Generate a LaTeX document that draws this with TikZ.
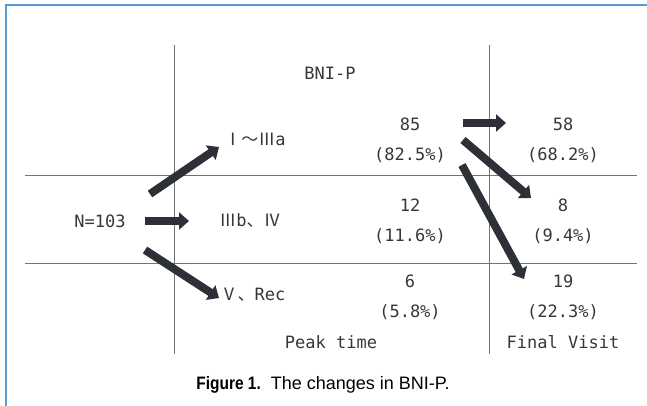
\documentclass[tikz,border=0pt]{standalone}
\usepackage{fontspec}
\setmainfont{DejaVu Sans Mono}
\newfontfamily\cjk{Noto Sans CJK JP}
\newfontfamily\capfont{Liberation Sans}
\newfontfamily\capbold{Liberation Sans Bold}[FakeStretch=0.86]
\usetikzlibrary{calc,arrows.meta}
\definecolor{frameblue}{RGB}{91,155,213}
\definecolor{arrowgray}{RGB}{45,48,54}
\definecolor{textgray}{RGB}{55,55,55}
\def\drawarrow{\draw[color=arrowgray, line width=8pt, -{Triangle[length=10pt,width=17pt]}]}
\def\drawgrid{\draw[color=black!55, line width=0.9pt]}
\def\cellnode{\node[text=textgray, font=\fontsize{17}{30}\selectfont, align=center, inner sep=0pt]}

\begin{document}
\begin{tikzpicture}[x=1pt,y=-1pt]
\useasboundingbox (0,0) rectangle (647,406);
\draw[frameblue, line width=2pt] (6,406) -- (6,5) -- (647,5);

% table lines
\drawgrid (174,45) -- (174,354);
\drawgrid (489,45) -- (489,354);
\drawgrid (25,175) -- (637,175);
\drawgrid (25,263) -- (637,263);

% labels
\cellnode (title) at (330,73) {BNI-P};
\cellnode (n) at (100,221) {N=103};
\cellnode (g1) at (255,139) {{\cjk Ⅰ～Ⅲ}a};
\cellnode (g2) at (250,221) {{\cjk Ⅲ}b{\cjk 、Ⅳ}};
\cellnode (g3) at (253,295) {{\cjk Ⅴ、}Rec};

% peak time counts
\cellnode (p1) at (410,140) {85\\(82.5\%)};
\cellnode (p2) at (410,221) {12\\(11.6\%)};
\cellnode (p3) at (410,297) {6\\(5.8\%)};

% final visit counts
\cellnode (f1) at (563,140) {58\\(68.2\%)};
\cellnode (f2) at (563,221) {8\\(9.4\%)};
\cellnode (f3) at (563,297) {19\\(22.3\%)};

\cellnode (peak) at (331,342) {Peak time};
\cellnode (final) at (563,342) {Final Visit};
\node (caption) at (323,385) {\fontsize{18}{20}\selectfont{\capbold Figure 1.}\capfont\ \ The changes in BNI-P.};

% arrows from N=103
\coordinate (n_up) at ($ (n) + (50,-27) $);
\coordinate (n_mid) at ($ (n) + (45,0) $);
\coordinate (n_down) at ($ (n) + (45,29) $);
\drawarrow (n_up) to ($ (g1) + (-36,8) $);
\drawarrow (n_mid) to ($ (n_mid) + (44,0) $);
\drawarrow (n_down) to ($ (g3) + (-34,3) $);

% arrows from 85
\coordinate (p_right) at ($ (p1) + (53,-17) $);
\coordinate (p_diag) at ($ (p1) + (53,0) $);
\coordinate (p_long) at ($ (p1) + (52,25) $);
\drawarrow (p_right) to ($ (f1) + (-57,-17) $);
\drawarrow (p_diag) to ($ (f2) + (-32,-23) $);
\drawarrow (p_long) to ($ (f3) + (-39,-18) $);
\end{tikzpicture}
\end{document}
